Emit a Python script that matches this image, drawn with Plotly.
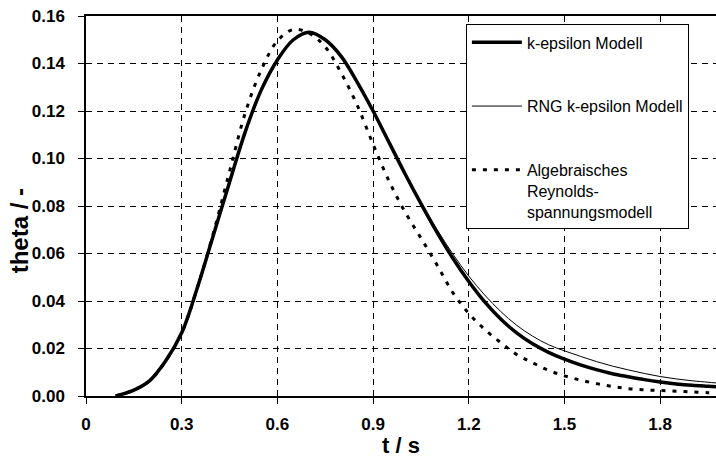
import plotly.graph_objects as go

# ---- data (theta) ----
t_vals = [0.093, 0.15, 0.20, 0.25, 0.30, 0.35, 0.40, 0.45, 0.50, 0.55, 0.60, 0.65, 0.70,
          0.75, 0.80, 0.85, 0.90, 0.95, 1.00, 1.05, 1.10, 1.15, 1.20, 1.25, 1.30, 1.35,
          1.40, 1.45, 1.50, 1.55, 1.60, 1.65, 1.70, 1.75, 1.80, 1.85, 1.90, 1.95, 1.975]

theta_ke = [0.0, 0.0025, 0.0065, 0.0148, 0.0266, 0.046, 0.068, 0.090, 0.1115, 0.129,
            0.1415, 0.1500, 0.1532, 0.1500, 0.1430, 0.1322, 0.1200, 0.1068, 0.0936, 0.0810,
            0.0690, 0.0580, 0.0482, 0.0396, 0.0324, 0.0266, 0.0220, 0.0184, 0.0155, 0.0131,
            0.0111, 0.0094, 0.0081, 0.0069, 0.0059, 0.0051, 0.0045, 0.0041, 0.0039]

theta_rng = [0.0, 0.0025, 0.0065, 0.0148, 0.0266, 0.046, 0.068, 0.090, 0.1115, 0.129,
             0.1415, 0.1500, 0.1530, 0.1500, 0.1430, 0.1322, 0.1200, 0.1068, 0.0938, 0.0817,
             0.0702, 0.0598, 0.0505, 0.0425, 0.0356, 0.0298, 0.0252, 0.0216, 0.0190, 0.0167,
             0.0145, 0.0126, 0.0110, 0.0095, 0.0082, 0.0072, 0.0064, 0.0058, 0.0055]

theta_ars = [0.0, 0.0025, 0.0065, 0.0148, 0.0266, 0.046, 0.069, 0.0945, 0.1195, 0.1375,
             0.1495, 0.1543, 0.1527, 0.1470, 0.1360, 0.1225, 0.1060, 0.0905, 0.0775, 0.0665,
             0.0553, 0.0435, 0.0348, 0.0280, 0.0225, 0.0175, 0.0140, 0.0108, 0.0085, 0.0067,
             0.0052, 0.0040, 0.0031, 0.0026, 0.0023, 0.0020, 0.0017, 0.0014, 0.0013]

x_tickvals = [0, 0.3, 0.6, 0.9, 1.2, 1.5, 1.8]
x_ticktext = ["0", "0.3", "0.6", "0.9", "1.2", "1.5", "1.8"]
y_tickvals = [0.00, 0.02, 0.04, 0.06, 0.08, 0.10, 0.12, 0.14, 0.16]

names = ["k-epsilon Modell", "RNG k-epsilon Modell",
         "Algebraisches<br>Reynolds-<br>spannungsmodell"]

FONT = "Liberation Sans, Arial, sans-serif"

fig = go.Figure()
fig.add_trace(go.Scatter(x=t_vals, y=theta_ke, mode="lines", name=names[0],
                         line=dict(color="black", width=3.5, shape="spline", smoothing=1),
                         legendgroup="a"))
fig.add_trace(go.Scatter(x=t_vals, y=theta_rng, mode="lines", name=names[1],
                         line=dict(color="black", width=1, shape="spline", smoothing=1),
                         legendgroup="b"))
fig.add_trace(go.Scatter(x=t_vals, y=theta_ars, mode="lines", name=names[2],
                         line=dict(color="black", width=3, dash="4px,7px", shape="spline", smoothing=1),
                         legendgroup="c"))

fig.update_layout(
    width=716, height=458,
    margin=dict(l=86, r=0, t=16, b=62, autoexpand=False),
    paper_bgcolor="white", plot_bgcolor="white",
    font=dict(family=FONT, color="black", size=16),
    legend=dict(x=0.603, y=0.978, xanchor="left", yanchor="top",
                bgcolor="white", bordercolor="black", borderwidth=1,
                font=dict(family=FONT, size=16, color="black"),
                tracegroupgap=40, itemwidth=50, valign="top"),
    showlegend=True,
)
fig.update_xaxes(range=[0, 1.975], tickvals=x_tickvals, ticktext=x_ticktext,
                 showgrid=True, gridcolor="black", gridwidth=1, griddash="6px,5px",
                 showline=True, linecolor="black", linewidth=1.5, mirror=True,
                 ticks="outside", ticklen=6, tickcolor="black", ticklabelstandoff=6,
                 tickfont=dict(family=FONT, size=17, weight="bold"),
                 zeroline=False, automargin=False,
                 title=dict(text="t / s", font=dict(family=FONT, size=22, weight="bold"), standoff=7))
fig.update_yaxes(range=[0, 0.16], tickvals=y_tickvals, tickformat=".2f",
                 showgrid=True, gridcolor="black", gridwidth=1, griddash="6px,5px",
                 showline=True, linecolor="black", linewidth=1.5,
                 ticks="outside", ticklen=6, tickcolor="black", ticklabelstandoff=10,
                 tickfont=dict(family=FONT, size=17, weight="bold"),
                 zeroline=False, automargin=False)
fig.add_annotation(text="theta / -", xref="paper", yref="paper", x=-0.105, y=0.4355,
                   xanchor="center", yanchor="middle",
                   textangle=-90, showarrow=False,
                   font=dict(family=FONT, size=24, weight="bold", color="black"))

fig.write_html("out.html")
